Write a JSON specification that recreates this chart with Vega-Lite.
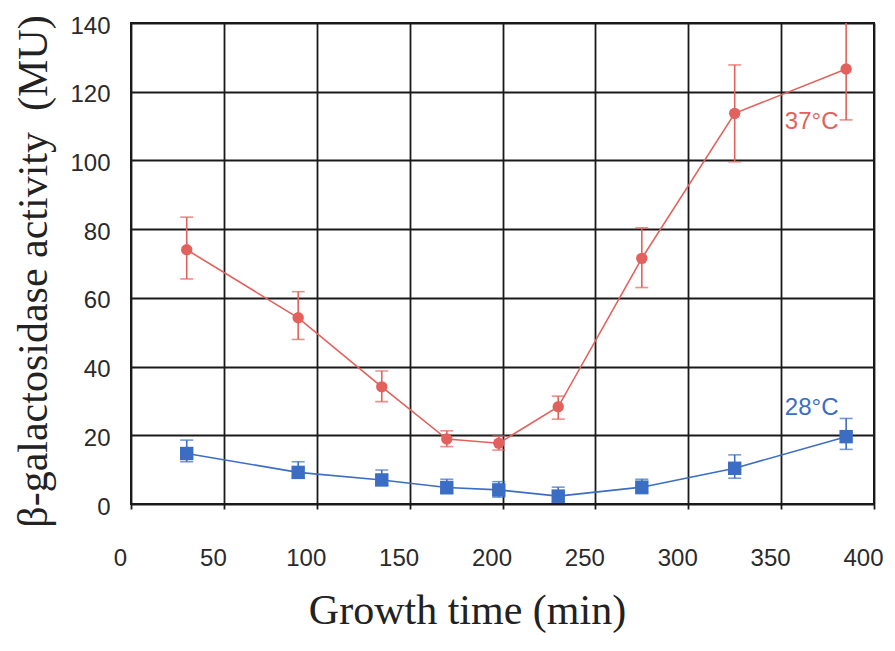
{
  "$schema": "https://vega.github.io/schema/vega-lite/v6.json",
  "autosize": "none",
  "padding": {"left": 131, "top": 23, "right": 21, "bottom": 147},
  "width": 743,
  "height": 481,
  "background": "white",
  "config": {
    "view": {"stroke": "#1a1a1a", "strokeWidth": 2},
    "axis": {
      "grid": true,
      "gridColor": "#1a1a1a",
      "gridWidth": 1.8,
      "gridOpacity": 1,
      "domain": false,
      "labelFont": "Liberation Sans",
      "labelFontSize": 24,
      "labelColor": "#2a2a2a",
      "titleFont": "Liberation Serif",
      "titleFontWeight": "normal",
      "titleFontSize": 42,
      "titleColor": "#222222"
    }
  },
  "datasets": {
    "pts": [
      {"series": "37", "t": 30, "v": 74.0, "lo": 65.5, "hi": 83.5},
      {"series": "37", "t": 90, "v": 54.2, "lo": 47.9, "hi": 61.8},
      {"series": "37", "t": 135, "v": 34.1, "lo": 29.8, "hi": 38.7},
      {"series": "37", "t": 170, "v": 18.9, "lo": 16.7, "hi": 21.3},
      {"series": "37", "t": 198, "v": 17.7, "lo": 15.7, "hi": 19.8},
      {"series": "37", "t": 230, "v": 28.3, "lo": 24.7, "hi": 31.4},
      {"series": "37", "t": 275, "v": 71.5, "lo": 63.0, "hi": 80.4},
      {"series": "37", "t": 325, "v": 113.7, "lo": 99.6, "hi": 127.8},
      {"series": "37", "t": 385, "v": 126.6, "lo": 111.8, "hi": 141.4},
      {"series": "28", "t": 30, "v": 14.7, "lo": 12.3, "hi": 18.6},
      {"series": "28", "t": 90, "v": 9.2, "lo": 7.6, "hi": 12.3},
      {"series": "28", "t": 135, "v": 7.0, "lo": 5.5, "hi": 9.9},
      {"series": "28", "t": 170, "v": 4.8, "lo": 3.0, "hi": 7.2},
      {"series": "28", "t": 198, "v": 4.1, "lo": 2.0, "hi": 6.5},
      {"series": "28", "t": 230, "v": 2.3, "lo": 0.5, "hi": 4.9},
      {"series": "28", "t": 275, "v": 4.9, "lo": 3.0, "hi": 7.2},
      {"series": "28", "t": 325, "v": 10.4, "lo": 7.5, "hi": 14.3},
      {"series": "28", "t": 385, "v": 19.6, "lo": 15.9, "hi": 24.9}
    ],
    "labels": [
      {"series": "37", "t": 352, "v": 111.2, "text": "37°C"},
      {"series": "28", "t": 352, "v": 27.9, "text": "28°C"}
    ]
  },
  "encoding": {
    "x": {
      "field": "t", "type": "quantitative",
      "scale": {"domain": [0, 400], "nice": false, "zero": false},
      "axis": {
        "values": [0, 50, 100, 150, 200, 250, 300, 350, 400],
        "title": "Growth time (min)",
        "tickSize": 5, "tickColor": "#1a1a1a", "tickWidth": 1.8,
        "labelPadding": 49, "labelBaseline": "middle", "labelOffset": -11,
        "labelFlush": false, "labelOverlap": false,
        "titleX": 336, "titleY": 119, "titleBaseline": "alphabetic", "titleAlign": "center"
      }
    },
    "y": {
      "field": "v", "type": "quantitative",
      "scale": {"domain": [0, 140], "nice": false},
      "axis": {
        "values": [0, 20, 40, 60, 80, 100, 120, 140],
        "title": "β-galactosidase activity\u00a0 (MU)",
        "ticks": false, "tickSize": 0,
        "labelPadding": 21, "labelOffset": 3, "labelFlush": false, "labelOverlap": false,
        "titleAngle": -90, "titleX": -98, "titleY": 248, "titleAlign": "center", "titleBaseline": "middle"
      }
    },
    "color": {
      "field": "series", "type": "nominal",
      "scale": {"domain": ["37", "28"], "range": ["#e3615c", "#3b6dc5"]},
      "legend": null
    }
  },
  "layer": [
    {
      "data": {"name": "pts"},
      "mark": {"type": "line", "strokeWidth": 1.6},
      "encoding": {"detail": {"field": "series"}}
    },
    {
      "data": {"name": "pts"},
      "mark": {"type": "rule", "strokeWidth": 1.6, "clip": true},
      "encoding": {"y": {"field": "lo", "type": "quantitative"}, "y2": {"field": "hi"}}
    },
    {
      "data": {"name": "pts"},
      "mark": {"type": "tick", "orient": "horizontal", "size": 13, "thickness": 1.6, "clip": true},
      "encoding": {"y": {"field": "hi", "type": "quantitative"}}
    },
    {
      "data": {"name": "pts"},
      "mark": {"type": "tick", "orient": "horizontal", "size": 13, "thickness": 1.6, "clip": true},
      "encoding": {"y": {"field": "lo", "type": "quantitative"}}
    },
    {
      "data": {"name": "pts"},
      "mark": {"type": "point", "filled": true, "opacity": 1},
      "encoding": {
        "shape": {"field": "series", "type": "nominal", "scale": {"domain": ["37", "28"], "range": ["circle", "square"]}, "legend": null},
        "size": {"field": "series", "type": "nominal", "scale": {"domain": ["37", "28"], "range": [130, 180]}, "legend": null}
      }
    },
    {
      "data": {"name": "labels"},
      "mark": {"type": "text", "align": "left", "baseline": "middle", "font": "Liberation Sans", "fontSize": 24},
      "encoding": {"text": {"field": "text"}}
    }
  ]
}
